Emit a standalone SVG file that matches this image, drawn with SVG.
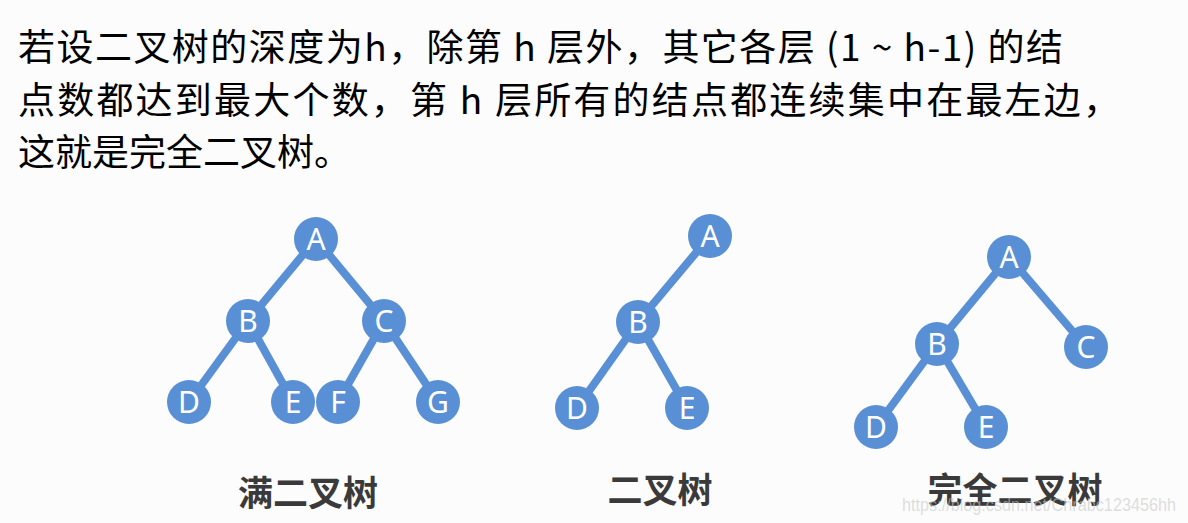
<svg xmlns="http://www.w3.org/2000/svg" width="1188" height="523" viewBox="0 0 1188 523">
<style>
.body{font-family:"Noto Sans CJK SC","Noto Sans",sans-serif;font-size:37px;fill:#000}
.lbl{font-family:"Noto Sans CJK SC",sans-serif;font-size:35px;font-weight:700;fill:#3a3a3a;text-anchor:middle}
.n circle{fill:#5990d5}
.n text{font-family:"Noto Sans","Noto Sans CJK SC",sans-serif;font-size:30px;fill:#fff;text-anchor:middle}
.e line{stroke:#5990d5;stroke-width:8}
.wm{font-family:"Liberation Sans",sans-serif;font-size:18px;fill:#c8c8c8;fill-opacity:0.6}
</style>
<rect width="1188" height="523" fill="#fcfcfc"/>
<g id="intro">
<text class="body" x="18" y="61" textLength="1045" lengthAdjust="spacing">若设二叉树的深度为h，除第 h 层外，其它各层 (1 ~ h-1) 的结</text>
<text class="body" x="18" y="114" textLength="1102" lengthAdjust="spacing">点数都达到最大个数，第 h 层所有的结点都连续集中在最左边，</text>
<text class="body" x="18" y="166">这就是完全二叉树。</text>
</g>
<g id="connectors" class="e">
<line x1="316" y1="239" x2="248" y2="321"/>
<line x1="316" y1="239" x2="384" y2="321"/>
<line x1="248" y1="321" x2="189" y2="402"/>
<line x1="248" y1="321" x2="293" y2="402"/>
<line x1="384" y1="321" x2="338" y2="402"/>
<line x1="384" y1="321" x2="438" y2="402"/>
<line x1="710" y1="236" x2="638" y2="322"/>
<line x1="638" y1="322" x2="577" y2="408"/>
<line x1="638" y1="322" x2="687" y2="408"/>
<line x1="1009" y1="257" x2="937" y2="344"/>
<line x1="1009" y1="257" x2="1086" y2="347"/>
<line x1="937" y1="344" x2="876" y2="427"/>
<line x1="937" y1="344" x2="986" y2="427"/>
</g>
<g id="full-A" class="n"><circle cx="316" cy="239" r="22"/><text x="316" y="250">A</text></g>
<g id="full-B" class="n"><circle cx="248" cy="321" r="22"/><text x="248" y="332">B</text></g>
<g id="full-C" class="n"><circle cx="384" cy="321" r="22"/><text x="384" y="332">C</text></g>
<g id="full-D" class="n"><circle cx="189" cy="402" r="22"/><text x="189" y="413">D</text></g>
<g id="full-E" class="n"><circle cx="293" cy="402" r="22"/><text x="293" y="413">E</text></g>
<g id="full-F" class="n"><circle cx="338" cy="402" r="22"/><text x="338" y="413">F</text></g>
<g id="full-G" class="n"><circle cx="438" cy="402" r="22"/><text x="438" y="413">G</text></g>
<g id="bin-A" class="n"><circle cx="710" cy="236" r="22"/><text x="710" y="247">A</text></g>
<g id="bin-B" class="n"><circle cx="638" cy="322" r="22"/><text x="638" y="333">B</text></g>
<g id="bin-D" class="n"><circle cx="577" cy="408" r="22"/><text x="577" y="419">D</text></g>
<g id="bin-E" class="n"><circle cx="687" cy="408" r="22"/><text x="687" y="419">E</text></g>
<g id="comp-A" class="n"><circle cx="1009" cy="257" r="22"/><text x="1009" y="268">A</text></g>
<g id="comp-B" class="n"><circle cx="937" cy="344" r="22"/><text x="937" y="355">B</text></g>
<g id="comp-C" class="n"><circle cx="1086" cy="347" r="22"/><text x="1086" y="358">C</text></g>
<g id="comp-D" class="n"><circle cx="876" cy="427" r="22"/><text x="876" y="438">D</text></g>
<g id="comp-E" class="n"><circle cx="986" cy="427" r="22"/><text x="986" y="438">E</text></g>
<g id="labels">
<text class="lbl" x="308" y="506">满二叉树</text>
<text class="lbl" x="660" y="503">二叉树</text>
<text class="lbl" x="1015" y="503">完全二叉树</text>
</g>
<text class="wm" x="902" y="511" textLength="274" lengthAdjust="spacingAndGlyphs">https://blog.csdn.net/Chrabc123456hh</text>
</svg>
